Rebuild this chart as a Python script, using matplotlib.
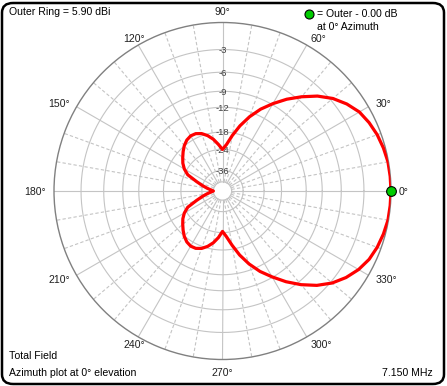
import numpy as np
import matplotlib
matplotlib.use("Agg")
import matplotlib.pyplot as plt
from matplotlib.patches import FancyBboxPatch
from matplotlib.lines import Line2D

# ---------------- data ----------------
azimuth_deg = [0, 5, 10, 15, 20, 25, 30, 35, 40, 45, 50, 55, 60, 65, 70, 75, 80, 85,
               90, 95, 100, 105, 110, 115, 120, 125, 130, 135, 140, 145, 150, 155, 160,
               165, 170, 175, 180, 185, 190, 195, 200, 205, 210, 215, 220, 225, 230,
               235, 240, 245, 250, 255, 260, 265, 270, 275, 280, 285, 290, 295, 300,
               305, 310, 315, 320, 325, 330, 335, 340, 345, 350, 355, 360]
gain_db = [0.0, -0.02, -0.05, -0.2, -0.4, -0.7, -1.1, -1.8, -2.7, -3.9, -5.4, -7.0,
           -8.8, -10.7, -13.0, -15.7, -18.8, -22.0, -24.0, -22.0, -20.0, -18.5, -17.4,
           -16.8, -16.7, -17.1, -17.9, -19.0, -20.2, -21.4, -23.0, -25.4, -31.0, -36.0,
           -41.0, -46.0, -50.0, -46.0, -41.0, -36.0, -31.0, -25.4, -23.0, -21.4, -20.2,
           -19.0, -17.9, -17.1, -16.7, -16.8, -17.4, -18.5, -20.0, -22.0, -24.5, -22.3,
           -19.2, -16.0, -13.3, -11.0, -9.1, -7.2, -5.5, -4.0, -2.8, -1.9, -1.2, -0.7,
           -0.4, -0.2, -0.05, -0.02, 0.0]
ring_db = [-3, -6, -9, -12, -18, -24, -36]
inner_ring_db = -50
angle_labels = [0, 30, 60, 90, 120, 150, 180, 210, 240, 270, 300, 330]
spoke_deg = list(range(0, 360, 10))

W, H = 447, 386
FONT = ["Liberation Sans", "DejaVu Sans"]
plt.rcParams['font.family'] = FONT


def fwd(db):
    db = np.asarray(db, dtype=float)
    return np.power(0.89, -db / 2.0)


def inv(r):
    r = np.asarray(r, dtype=float)
    r = np.clip(r, 1e-12, None)
    return -2.0 * np.log(r) / np.log(0.89)


fig = plt.figure(figsize=(W / 100, H / 100), dpi=100)

# rounded border
border = FancyBboxPatch((2 / W, 2 / H), (W - 5) / W, (H - 5) / H,
                        boxstyle="round,pad=0,rounding_size=0.025",
                        transform=fig.transFigure, facecolor="white",
                        edgecolor="black", linewidth=1.8, zorder=-10)
fig.add_artist(border)

cx, cy, R = 222.5, 191, 168.5
ax = fig.add_axes([(cx - R) / W, (H - cy - R) / H, 2 * R / W, 2 * R / H],
                  projection="polar", zorder=1)
ax.set_facecolor("none")
ax.set_rscale("function", functions=(fwd, inv))
ax.set_rlim(-150, 0)
ax.set_xticks([])
ax.set_yticks([])
ax.grid(False)
ax.spines["polar"].set_color("#808080")
ax.spines["polar"].set_linewidth(1.0)

theta_fine = np.linspace(0, 2 * np.pi, 721)
grid_c = "#c4c4c4"
for db in ring_db + [inner_ring_db]:
    ax.plot(theta_fine, np.full_like(theta_fine, db), color=grid_c, lw=0.8, zorder=1)

for a in spoke_deg:
    t = np.deg2rad(a)
    if a % 30 == 0:
        ax.plot([t, t], [inner_ring_db, 0], color=grid_c, lw=0.8, zorder=1)
    else:
        ax.plot([t, t], [inner_ring_db, 0], color=grid_c, lw=0.8,
                dashes=(3, 2), zorder=1)

for db in ring_db:
    ax.text(np.pi / 2, db, str(db), ha="center", va="center_baseline", fontsize=6.8,
            color="#404040", zorder=2)

ax.plot(np.deg2rad(azimuth_deg), gain_db, color="#ff0000", lw=2.3, zorder=3,
        solid_joinstyle="round")
ax.plot([0], [0], marker="o", markersize=7, markerfacecolor="#00cc00",
        markeredgecolor="black", markeredgewidth=0.8, zorder=4, clip_on=False)

for a in angle_labels:
    t = np.deg2rad(a)
    c, s = np.cos(t), np.sin(t)
    ha = "left" if c > 0.3 else ("right" if c < -0.6 else "center")
    gap_px = 12.0 if abs(s) > 0.99 else 8.0
    rr = 0.5 + gap_px / (2 * R)
    ax.text(0.5 + rr * c, 0.5 + rr * s, f"{a}°",
            transform=ax.transAxes, ha=ha, va="center_baseline", fontsize=7.6,
            color="#202020")


def ftext(x, y, s, ha="left"):
    fig.text(x / W, 1 - y / H, s, ha=ha, va="center", fontsize=7.6, color="black")


ftext(9, 12, "Outer Ring = 5.90 dBi")
ftext(317, 14, "= Outer - 0.00 dB")
ftext(317, 27, "at 0° Azimuth")
ftext(9, 356, "Total Field")
ftext(9, 373, "Azimuth plot at 0° elevation")
ftext(433, 373, "7.150 MHz", ha="right")
fig.add_artist(Line2D([309 / W], [1 - 14 / H], transform=fig.transFigure,
                      marker="o", markersize=6.5, markerfacecolor="#00cc00",
                      markeredgecolor="black", markeredgewidth=0.8, linestyle="none"))

fig.savefig("out.png", dpi=100)
